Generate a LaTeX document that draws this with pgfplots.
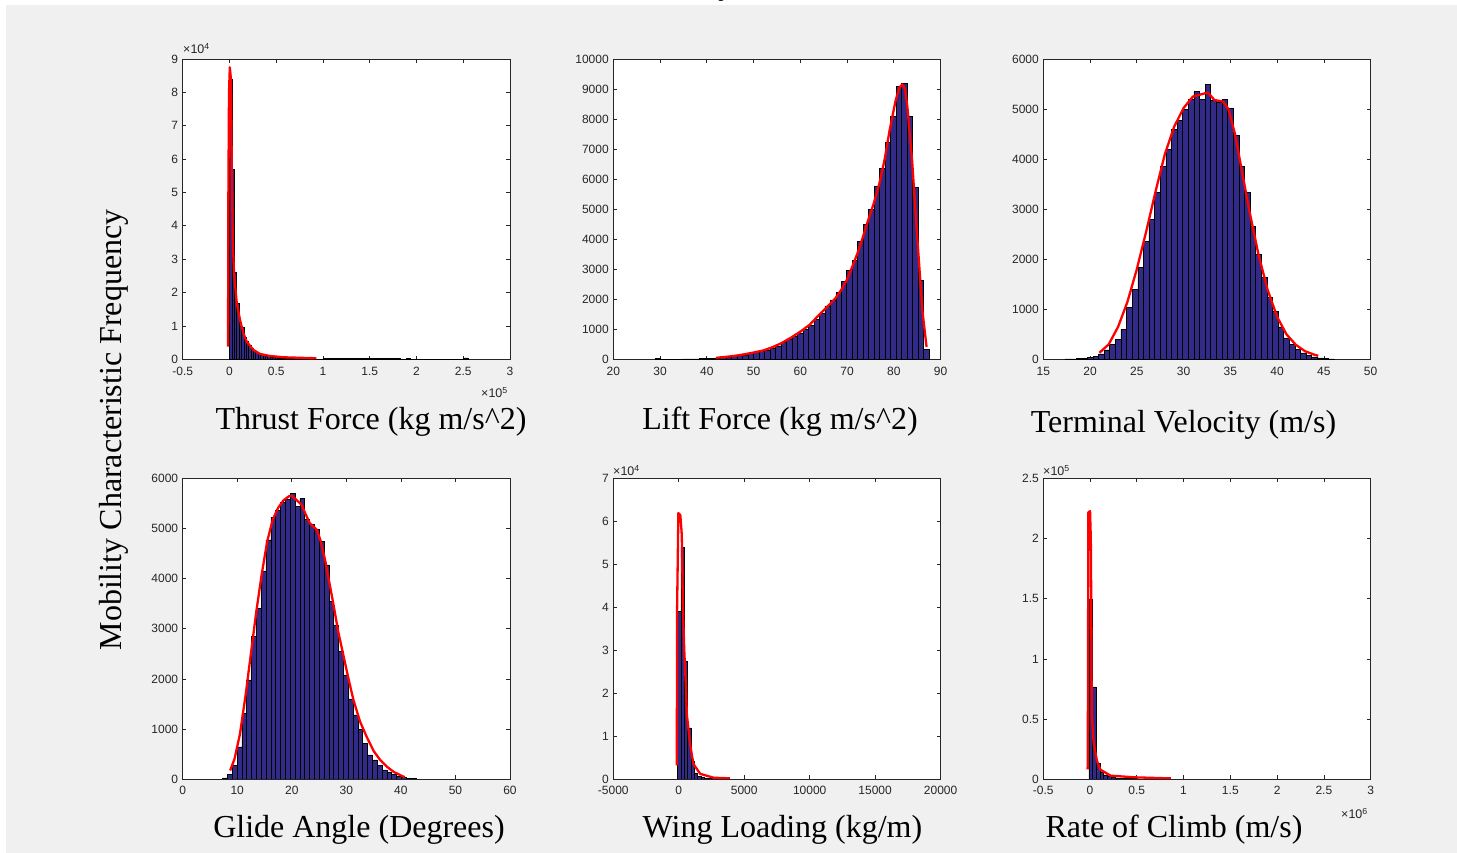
\documentclass[border=0pt]{standalone}
\usepackage{fontspec}
\setmainfont{Liberation Serif}
\newfontfamily\arial{Liberation Sans}
\usepackage{pgfplots}
\pgfplotsset{compat=1.18}
\definecolor{axc}{RGB}{38,38,38}
\definecolor{barc}{RGB}{50,42,135}
\definecolor{figbg}{RGB}{240,240,240}
\pgfplotsset{mat/.style={
  width=327.3pt, height=300.3pt, scale only axis,
  anchor=south west,
  axis background/.style={fill=white},
  axis line style={draw=axc, line width=0.7pt},
  every tick/.style={draw=axc, line width=0.7pt},
  major tick length=3.6pt,
  tick align=inside,
  xtick pos=both, ytick pos=both,
  tick label style={font=\arial\fontsize{12}{14}\selectfont, text=axc},
  xticklabel style={yshift=-4pt},
  yticklabel style={xshift=-1pt},
  scaled ticks=false,
  clip=true,
}}
\pgfplotsset{barst/.style={ybar interval, fill=barc, draw=black, line width=0.5pt},
  fitst/.style={red, line width=2.3pt, line join=round}}
\begin{document}
\begin{tikzpicture}
\useasboundingbox (0pt,0pt) rectangle (1457pt,853pt);
\fill[white] (0pt,0pt) rectangle (1457pt,853pt);
\fill[figbg] (6pt,0pt) rectangle (1457pt,848pt);
\node[font=\fontsize{32}{36}\selectfont, anchor=base] at (726pt,858pt) {y};

% ---------- Panel 1: Thrust ----------
\begin{axis}[mat, at={(182.7pt,493.7pt)},
  xmin=-50000, xmax=300000, ymin=0, ymax=90000,
  xtick={-50000,0,50000,100000,150000,200000,250000,300000},
  xticklabels={-0.5,0,0.5,1,1.5,2,2.5,3},
  ytick={0,10000,20000,30000,40000,50000,60000,70000,80000,90000},
  yticklabels={0,1,2,3,4,5,6,7,8,9}]
\addplot[barst] table {
0 84000
2550 57000
5100 26000
7650 16800
10200 10000
12750 9500
15300 6500
17850 5500
20400 4200
22950 3300
25500 2800
28050 2200
30600 1800
33150 1500
35700 1200
38250 1000
40800 850
43350 700
45900 600
48450 500
51000 420
56100 330
61200 260
66300 200
71400 160
76500 120
86700 80
100000 250
183000 0
189000 350
193000 0
250000 400
255000 0
};
\addplot[fitst] table {
-1500 3800
-1200 47000
-500 80000
400 87500
1600 84000
2600 55000
3600 35000
4900 25800
7800 16800
11300 11800
14900 7800
18400 5300
25600 2800
32700 1600
43000 1000
58000 600
93000 300
};
\end{axis}

% ---------- Panel 2: Lift ----------
\begin{axis}[mat, at={(613.3pt,493.7pt)},
  xmin=20, xmax=90, ymin=0, ymax=10000,
  xtick={20,30,40,50,60,70,80,90},
  xticklabels={20,30,40,50,60,70,80,90},
  ytick={0,1000,2000,3000,4000,5000,6000,7000,8000,9000,10000},
  yticklabels={0,1000,2000,3000,4000,5000,6000,7000,8000,9000,10000}]
\addplot[barst] table {
28.90 20
30.07 3
31.24 5
32.42 6
33.59 8
34.76 10
35.93 13
37.10 17
38.28 22
39.45 28
40.62 37
41.79 48
42.96 62
44.14 80
45.31 100
46.48 125
47.65 150
48.82 185
50.00 225
51.17 260
52.34 310
53.51 378
54.68 444
55.86 555
57.03 678
58.20 767
59.37 855
60.54 989
61.72 1122
62.89 1322
64.06 1522
65.23 1777
66.40 1966
67.58 2222
68.75 2600
69.92 2966
71.09 3300
72.26 3933
73.44 4488
74.61 4988
75.78 5766
76.95 6355
78.12 7211
79.30 8100
80.47 9080
81.64 9200
82.81 8080
83.98 5720
85.16 2620
86.33 322
87.50 0
};
\addplot[fitst] table {
42 50
44 80
46 115
48 165
50 225
52 290
54 400
56 540
58 720
60 920
62 1150
64 1480
66.4 1850
67.6 2050
68.7 2300
69.9 2630
71.1 3080
72.2 3520
73.4 4080
74.5 4630
75.7 5190
76.9 5850
78 6630
79.1 7630
80.4 8630
81.2 9050
81.8 9150
82.4 9000
82.9 8400
83.9 6630
85 4080
86.1 1630
87 410
};
\end{axis}

% ---------- Panel 3: Terminal velocity ----------
\begin{axis}[mat, at={(1043.3pt,493.7pt)},
  xmin=15, xmax=50, ymin=0, ymax=6000,
  xtick={15,20,25,30,35,40,45,50},
  xticklabels={15,20,25,30,35,40,45,50},
  ytick={0,1000,2000,3000,4000,5000,6000},
  yticklabels={0,1000,2000,3000,4000,5000,6000}]
\addplot[barst] table {
17.3 8
17.9 10
18.5 12
19.1 20
19.7 35
20.3 60
20.9 110
21.5 190
22.1 300
22.7 400
23.3 600
23.9 1040
24.5 1390
25.1 1830
25.7 2350
26.3 2800
26.9 3340
27.5 3850
28.1 4200
28.7 4600
29.3 4780
29.9 5000
30.5 5200
31.1 5350
31.7 5200
32.3 5500
32.9 5180
33.5 5130
34.1 5200
34.7 5020
35.3 4470
35.9 3850
36.5 3330
37.1 2650
37.7 2100
38.3 1630
38.9 1230
39.5 950
40.1 650
40.7 430
41.3 300
41.9 200
42.5 130
43.1 80
43.7 50
44.3 30
44.9 20
45.5 10
46.1 0
};
\addplot[fitst] table {
21 130
22 300
23 650
24 1150
25 1800
26 2550
27 3350
28 4100
29 4650
30 5020
31 5250
32 5300
32.6 5330
33.3 5180
34.2 5150
34.8 5000
35.5 4500
36 4000
37 3000
38 2100
39 1380
40 850
41 500
42 290
43 160
44 90
44.4 70
};
\end{axis}

% ---------- Panel 4: Glide angle ----------
\begin{axis}[mat, at={(182.7pt,74pt)},
  xmin=0, xmax=60, ymin=0, ymax=6000,
  xtick={0,10,20,30,40,50,60},
  xticklabels={0,10,20,30,40,50,60},
  ytick={0,1000,2000,3000,4000,5000,6000},
  yticklabels={0,1000,2000,3000,4000,5000,6000}]
\addplot[barst] table {
7.30 20
8.19 85
9.07 270
9.96 640
10.84 1310
11.73 1980
12.62 2850
13.50 3410
14.39 4150
15.27 4780
16.16 5230
17.05 5370
17.93 5530
18.82 5580
19.70 5710
20.59 5440
21.48 5600
22.36 5180
23.25 5080
24.13 4980
25.02 4750
25.91 4280
26.79 3550
27.68 3080
28.56 2550
29.45 2080
30.34 1600
31.22 1280
32.11 990
32.99 710
33.88 480
34.77 380
35.65 270
36.54 180
37.42 130
38.31 90
39.20 60
40.08 35
40.97 18
41.85 10
42.74 0
};
\addplot[fitst] table {
8.7 170
9.5 400
10.5 900
11.5 1650
12.5 2500
13.5 3350
14.5 4100
15.5 4750
16.5 5180
17.5 5420
18.5 5570
19.5 5650
20.0 5660
21.0 5560
21.8 5480
22.5 5300
23.3 5110
24.6 4980
25.3 4750
26.1 4380
27.6 3510
28.5 2950
29.5 2450
30.4 2000
31.3 1580
32.5 1150
33.7 850
35 560
36.2 380
37.5 240
38.7 140
39.85 80
40.7 35
};
\end{axis}

% ---------- Panel 5: Wing loading ----------
\begin{axis}[mat, at={(613.3pt,74pt)},
  xmin=-5000, xmax=20000, ymin=0, ymax=70000,
  xtick={-5000,0,5000,10000,15000,20000},
  xticklabels={-5000,0,5000,10000,15000,20000},
  ytick={0,10000,20000,30000,40000,50000,60000,70000},
  yticklabels={0,1,2,3,4,5,6,7}]
\addplot[barst] table {
-100 39000
155 54000
410 27400
665 11900
920 4100
1175 1400
1430 600
1685 300
1940 150
2195 100
2450 80
2705 60
2960 50
3215 40
3470 30
3725 0
};
\addplot[fitst] table {
-150 3200
-130 39000
-30 62000
120 61500
230 57000
320 40000
420 30000
550 21000
620 15000
870 8000
1120 3500
1640 1200
2660 300
3900 150
};
\end{axis}

% ---------- Panel 6: Rate of climb ----------
\begin{axis}[mat, at={(1043.3pt,74pt)},
  xmin=-500000, xmax=3000000, ymin=0, ymax=250000,
  xtick={-500000,0,500000,1000000,1500000,2000000,2500000,3000000},
  xticklabels={-0.5,0,0.5,1,1.5,2,2.5,3},
  ytick={0,50000,100000,150000,200000,250000},
  yticklabels={0,0.5,1,1.5,2,2.5}]
\addplot[barst] table {
-12000 150000
27500 76600
67000 13000
106500 6000
146000 3500
185500 2200
225000 1500
264500 1000
304000 700
343500 500
383000 400
422500 300
462000 250
501500 200
541000 150
580500 0
};
\addplot[fitst] table {
-26000 8000
-24000 30000
-18000 222000
0 223000
8000 200000
12000 155000
18000 55000
38000 30000
74000 15000
110000 7800
218000 2800
470000 1400
864000 500
};
\end{axis}

% ---------- scale labels ----------
\begin{scope}[every node/.style={font=\arial\fontsize{12.5}{14}\selectfont, text=axc, inner sep=0pt}]
\node[anchor=base west] at (183pt,799pt) {×10\textsuperscript{4}};
\node[anchor=base east] at (508pt,455pt) {×10\textsuperscript{5}};
\node[anchor=base west] at (613pt,377pt) {×10\textsuperscript{4}};
\node[anchor=base west] at (1043pt,377pt) {×10\textsuperscript{5}};
\node[anchor=base east] at (1368pt,34pt) {×10\textsuperscript{6}};
\end{scope}

% ---------- axis titles ----------
\begin{scope}[every node/.style={font=\fontsize{32}{36}\selectfont, inner sep=0pt}]
\node[anchor=base] at (371pt,423pt) {Thrust Force (kg m/s\^{}2)};
\node[anchor=base] at (780pt,423pt) {Lift Force (kg m/s\^{}2)};
\node[anchor=base] at (1183.5pt,420pt) {Terminal Velocity (m/s)};
\node[anchor=base] at (359pt,15pt) {Glide Angle (Degrees)};
\node[anchor=base] at (782.5pt,15pt) {Wing Loading (kg/m)};
\node[anchor=base] at (1174pt,15pt) {Rate of Climb (m/s)};
\node[anchor=base, rotate=90] at (121pt,423pt) {Mobility Characteristic Frequency};
\end{scope}
\end{tikzpicture}
\end{document}
